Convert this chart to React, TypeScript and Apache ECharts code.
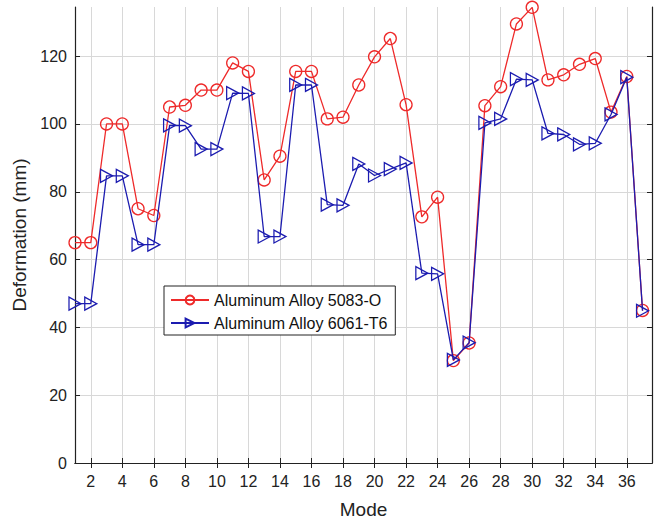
import React, { useEffect, useRef } from "react";
import * as echarts from "echarts";

const modes = Array.from({ length: 37 }, (_, i) => i + 1);
const alloy5083 = [65, 65, 100, 100, 75, 73, 105, 105.5, 110, 110, 118, 115.5, 83.5, 90.5, 115.5, 115.5, 101.5, 102, 111.5, 119.8, 125.2, 105.7, 72.6, 78.4, 30.2, 35.4, 105.4, 111, 129.5, 134.4, 113, 114.5, 117.6, 119.3, 103.5, 114, 45];
const alloy6061 = [47, 47, 84.7, 84.7, 64.4, 64.4, 99.6, 99.5, 92.6, 92.6, 109.1, 109, 66.8, 66.8, 111.5, 111.5, 76.2, 76, 88.2, 84.8, 86.7, 88.5, 56, 55.8, 30.4, 35.5, 100.3, 101.5, 113.2, 113, 97.2, 96.9, 94, 94.3, 102.8, 113.8, 44.9];
const xTicks = [2, 4, 6, 8, 10, 12, 14, 16, 18, 20, 22, 24, 26, 28, 30, 32, 34, 36];
const yTicks = [0, 20, 40, 60, 80, 100, 120];
const seriesNames = ["Aluminum Alloy 5083-O", "Aluminum Alloy 6061-T6"];

const RED = "#ee2a2a";
const BLUE = "#1c1cb0";
const FONT = "Liberation Sans";

export default function App() {
  const ref = useRef<HTMLDivElement>(null);
  useEffect(() => {
    if (!ref.current) return;
    const chart = echarts.init(ref.current, null, { renderer: "svg" });
    const xBase = {
      type: "value",
      min: 1,
      max: 37.6,
      axisLine: { show: true, lineStyle: { color: "#222", width: 1.2 } },
      axisTick: { show: true, inside: true, length: 5, customValues: xTicks, lineStyle: { color: "#222" } },
      splitLine: { show: false },
    };
    const yBase = {
      type: "value",
      min: 0,
      max: 134.5,
      axisLine: { show: true, lineStyle: { color: "#222", width: 1.2 } },
      axisTick: { show: true, inside: true, length: 5, customValues: yTicks, lineStyle: { color: "#222" } },
      splitLine: { show: false },
    };
    chart.setOption({
      animation: false,
      backgroundColor: "#fff",
      grid: { left: 75, right: 2, top: 7, bottom: 57, containLabel: false },
      legend: {
        left: 164,
        top: 286,
        orient: "vertical",
        backgroundColor: "#fff",
        borderColor: "#222",
        borderWidth: 1,
        borderRadius: 0,
        padding: [6, 7, 4, 6],
        itemGap: 7,
        itemWidth: 38,
        itemHeight: 11,
        textStyle: { fontFamily: FONT, fontSize: 16, color: "#111", lineHeight: 16 },
        data: seriesNames,
      },
      xAxis: [
        {
          ...xBase,
          position: "bottom",
          name: "Mode",
          nameLocation: "middle",
          nameGap: 37,
          nameTextStyle: { fontFamily: FONT, fontSize: 19, color: "#222" },
          axisLabel: { customValues: xTicks, fontFamily: FONT, fontSize: 16, color: "#222", margin: 10 },
          splitLine: { show: true, lineStyle: { color: "#d8d8d8", width: 1 } },
        },
        { ...xBase, position: "top", axisLabel: { show: false } },
      ],
      yAxis: [
        {
          ...yBase,
          position: "left",
          name: "Deformation (mm)",
          nameLocation: "middle",
          nameGap: 44,
          nameTextStyle: { fontFamily: FONT, fontSize: 19, color: "#222" },
          axisLabel: { customValues: yTicks, fontFamily: FONT, fontSize: 16, color: "#222", margin: 8 },
          splitLine: { show: true, lineStyle: { color: "#d8d8d8", width: 1 } },
        },
        { ...yBase, position: "right", axisLabel: { show: false } },
      ],
      series: [
        {
          name: seriesNames[0],
          type: "line",
          data: modes.map((m, i) => [m, alloy5083[i]]),
          symbol: "circle",
          symbolSize: 12,
          lineStyle: { color: RED, width: 1.3 },
          itemStyle: { color: "rgba(255,255,255,0)", borderColor: RED, borderWidth: 1.3 },
          z: 2,
        },
        {
          name: seriesNames[1],
          type: "line",
          data: modes.map((m, i) => [m, alloy6061[i]]),
          symbol: "path://M0,0 L10,6 L0,12 Z",
          symbolSize: [12, 13],
          lineStyle: { color: BLUE, width: 1.3 },
          itemStyle: { color: "rgba(255,255,255,0)", borderColor: BLUE, borderWidth: 1.3 },
          z: 3,
        },
      ],
    });
    return () => chart.dispose();
  }, []);
  return <div ref={ref} style={{ width: 654, height: 524, position: "absolute", left: 0, top: 0 }} />;
}
